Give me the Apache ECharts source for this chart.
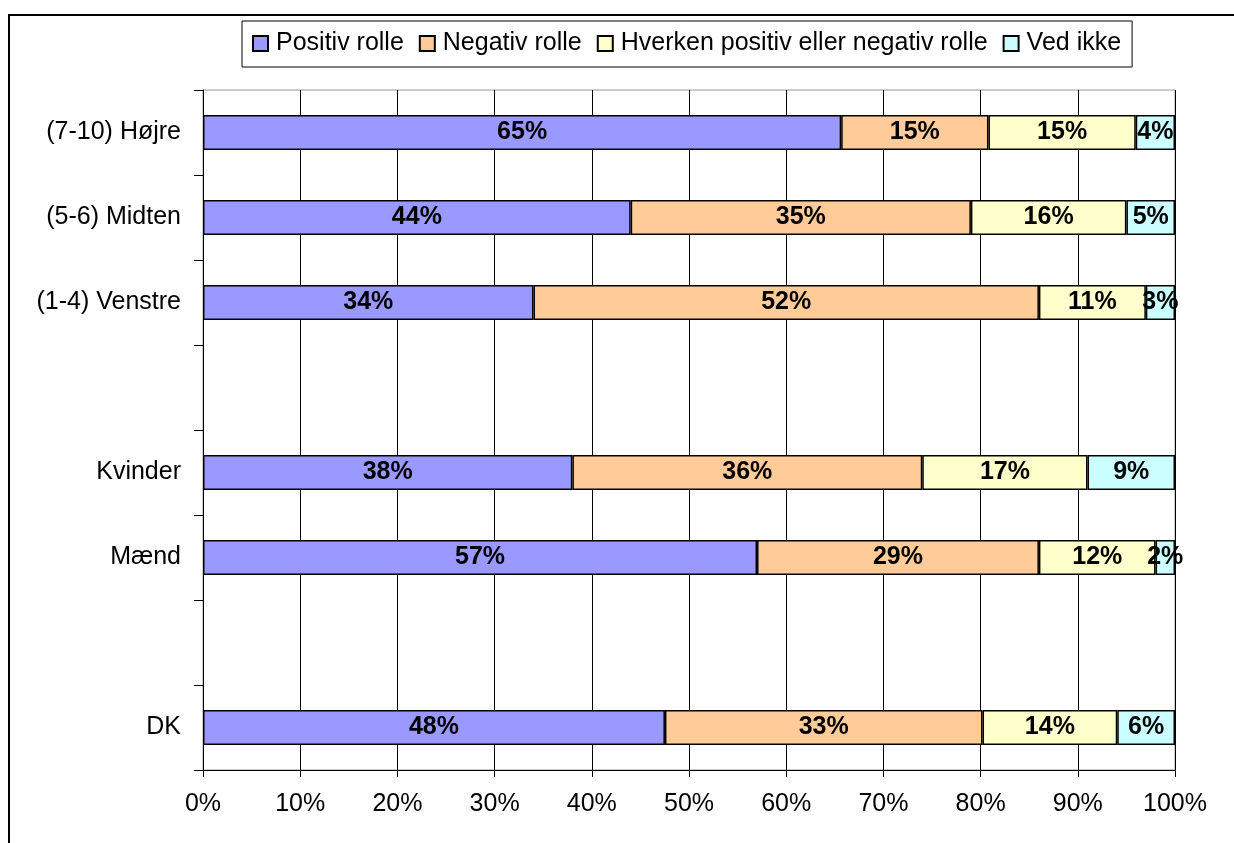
<!DOCTYPE html>
<html>
<head>
<meta charset="utf-8">
<script src="https://cdn.jsdelivr.net/npm/echarts@6/dist/echarts.min.js"></script>
<style>
  html, body { margin: 0; padding: 0; background: #fff; overflow: hidden; }
  #frame { position: absolute; left: 8px; top: 14px; width: 1300px; height: 900px; border: 2px solid #000; box-sizing: border-box; }
  #chart { position: absolute; left: 0; top: 0; width: 1234px; height: 843px; }
</style>
</head>
<body>
<div id="frame"></div>
<div id="chart"></div>
<script>
// rows from top to bottom; empty strings are the spacer rows
const categories = ["(7-10) Højre", "(5-6) Midten", "(1-4) Venstre", "", "Kvinder", "Mænd", "", "DK"];
const positiv = [65, 44, 34, null, 38, 57, null, 48];
const negativ = [15, 35, 52, null, 36, 29, null, 33];
const hverken = [15, 16, 11, null, 17, 12, null, 14];
const vedIkke = [4, 5, 3, null, 9, 2, null, 6];
const seriesNames = ["Positiv rolle", "Negativ rolle", "Hverken positiv eller negativ rolle", "Ved ikke"];
const colors = ["#9999FF", "#FFCC99", "#FFFFCC", "#CCFFFF"];

const raw = [positiv, negativ, hverken, vedIkke];
// 100% stacked: each row scaled to its own total, label keeps the printed value
const totals = categories.map((_, i) => raw.reduce((s, arr) => s + (arr[i] ?? 0), 0));

const chart = echarts.init(document.getElementById("chart"));
const font = "Liberation Sans, Arial, sans-serif";

chart.setOption({
  animation: false,
  textStyle: { fontFamily: font, color: "#000" },
  legend: {
    top: 21,
    left: 242,
    padding: [10, 11, 11, 10],
    borderColor: "#000",
    borderWidth: 1,
    itemWidth: 15,
    itemHeight: 15,
    itemGap: 15,
    icon: "rect",
    textStyle: { fontSize: 25, fontFamily: font, color: "#000", padding: [0, 0, 0, 3] },
    data: seriesNames,
  },
  grid: {
    left: 203, right: 59, top: 90, bottom: 73,
    show: true, borderColor: "#999", borderWidth: 1, backgroundColor: "#fff",
  },
  xAxis: {
    type: "value",
    min: 0, max: 100, interval: 10,
    axisLine: { show: true, lineStyle: { color: "#000", width: 1 } },
    axisTick: { show: true, length: 7, lineStyle: { color: "#000" } },
    axisLabel: { formatter: "{value}%", fontSize: 25, color: "#000", margin: 22, fontFamily: font },
    splitLine: { show: true, lineStyle: { color: "#000", width: 1 } },
  },
  yAxis: {
    type: "category",
    inverse: true,
    data: categories,
    axisLine: { show: true, lineStyle: { color: "#000", width: 1 } },
    axisTick: { show: true, length: 9, lineStyle: { color: "#000" } },
    axisLabel: { fontSize: 25, color: "#000", margin: 22, fontFamily: font },
  },
  series: raw.map((arr, k) => ({
    name: seriesNames[k],
    type: "bar",
    stack: "total",
    barWidth: 35,
    itemStyle: { color: colors[k], borderColor: "#000", borderWidth: 1.5 },
    label: {
      show: true,
      position: "inside",
      fontSize: 25,
      fontWeight: "bold",
      color: "#000",
      fontFamily: font,
      formatter: (p) => arr[p.dataIndex] + "%",
    },
    data: arr.map((v, i) => (v == null ? null : (v / totals[i]) * 100)),
  })),
});
</script>
</body>
</html>
